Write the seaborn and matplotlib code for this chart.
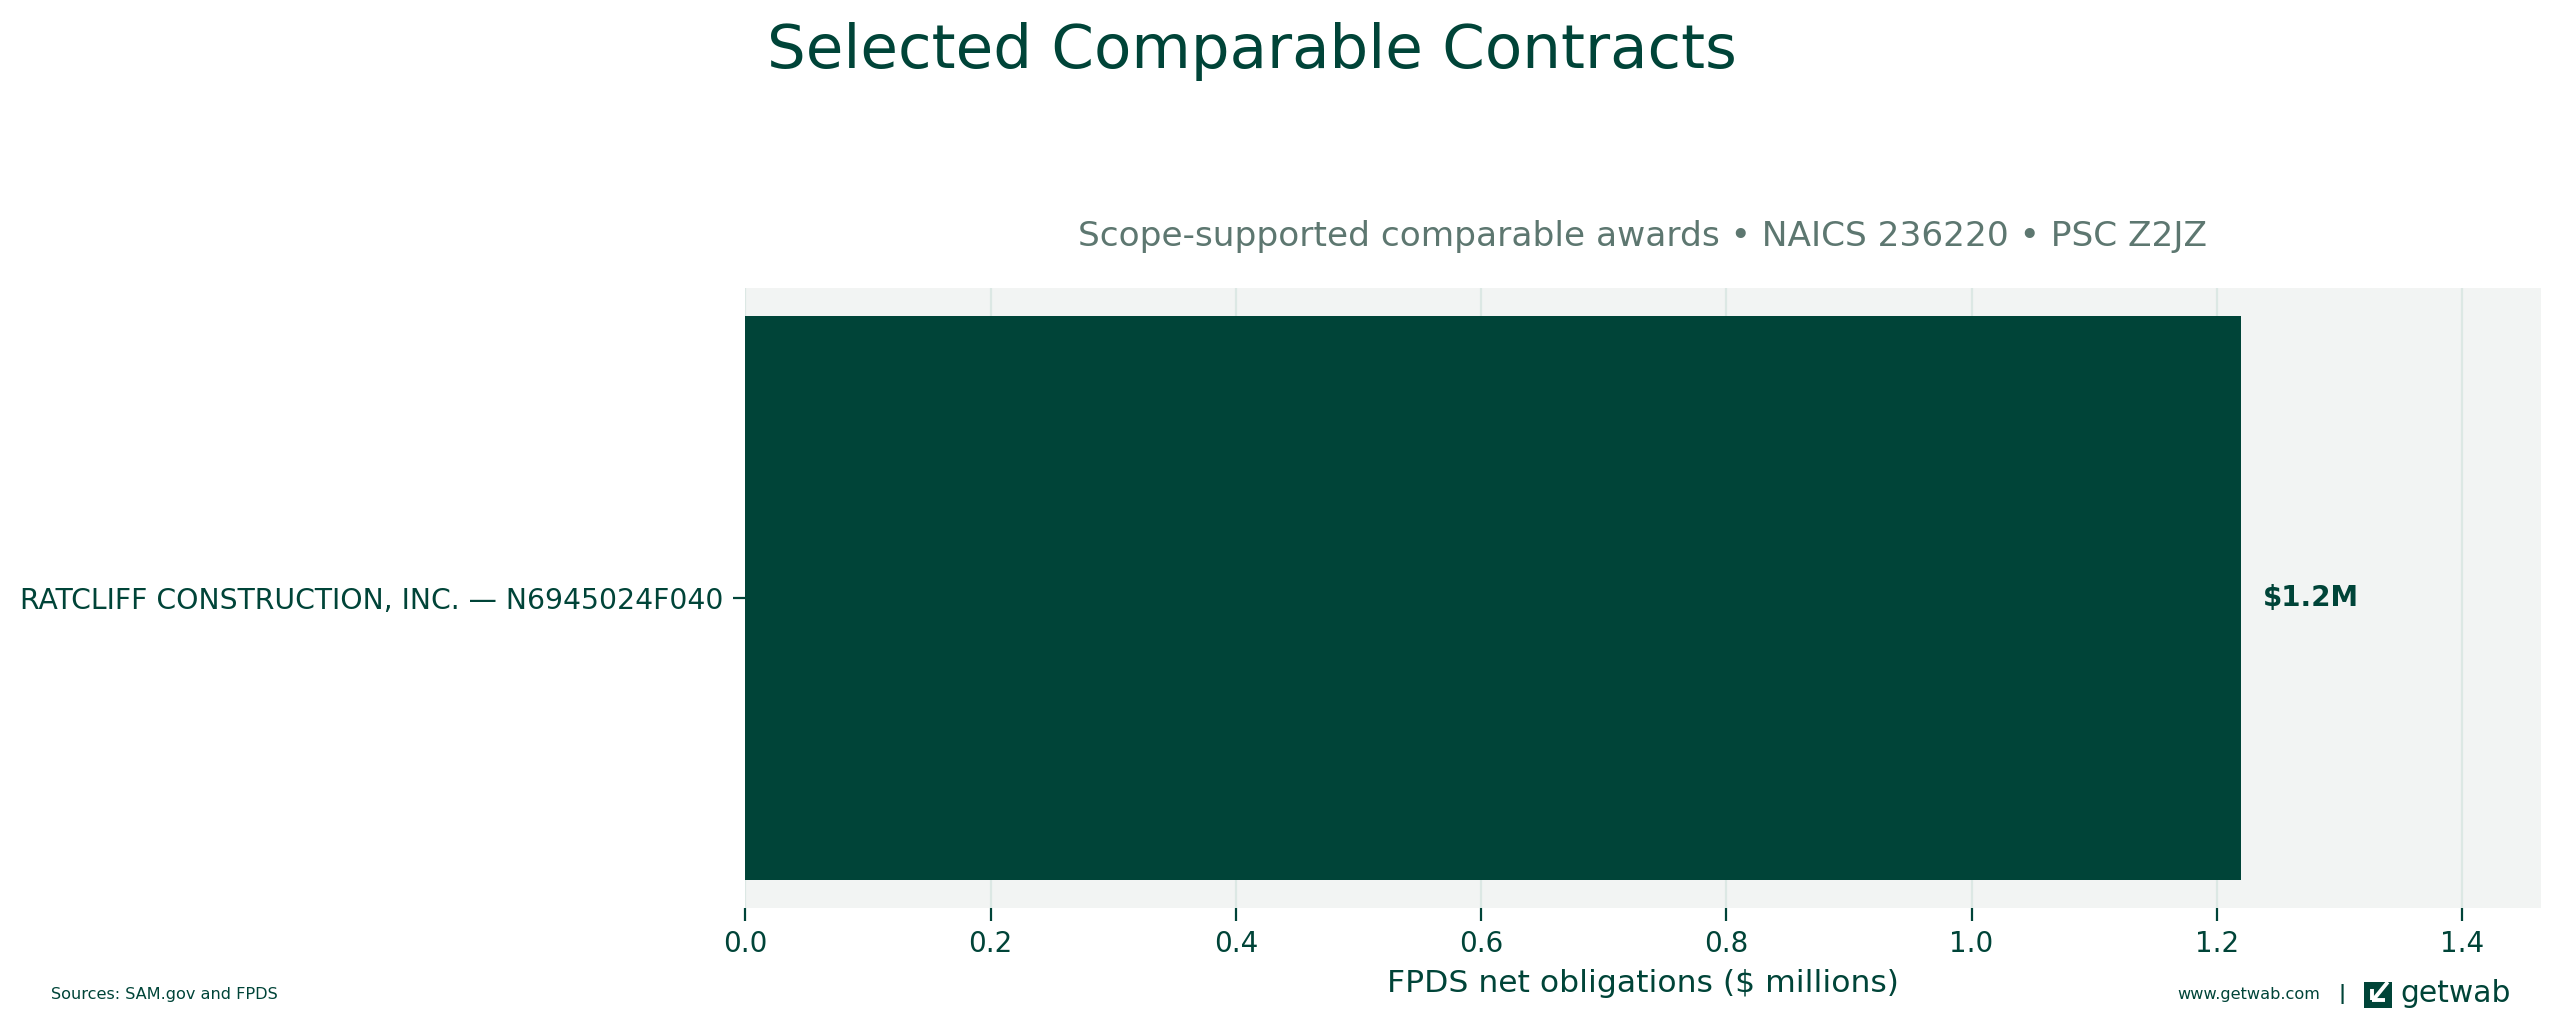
import numpy as np
import pandas as pd
import matplotlib
matplotlib.use("Agg")
import matplotlib.pyplot as plt
from matplotlib.patches import Rectangle
from matplotlib.lines import Line2D
import seaborn as sns

# data
labels = ["RATCLIFF CONSTRUCTION, INC. \u2014 N6945024F040"]
values_musd = [1.22]
value_text = ["$1.2M"]

DARK = "#004438"
MUTED = "#5d7770"
FACE = "#f2f4f3"
GRID = "#dce8e4"

sns.set_theme(style="white")
plt.rcParams["font.family"] = ["DejaVu Sans"]

df = pd.DataFrame({"label": labels, "value": values_musd})

fig = plt.figure(figsize=(12.805, 5.11), dpi=200)
ax = fig.add_axes([0.291, 0.1115, 0.701, 0.607])
ax.set_facecolor(FACE)

sns.barplot(data=df, y="label", x="value", orient="h", color=DARK,
            saturation=1, width=0.8, linewidth=0, ax=ax)
ax.set_ylim(0.44, -0.44)
ax.set_xlim(0, max(values_musd) * 1.2)

for i, (v, t) in enumerate(zip(values_musd, value_text)):
    ax.text(v + 0.018, i, t, va="center", ha="left", fontsize=10,
            fontweight="bold", color=DARK)

ax.grid(axis="x", color=GRID, lw=0.8)
ax.grid(axis="y", visible=False)
ax.set_axisbelow(True)
for s in ax.spines.values():
    s.set_visible(False)
ax.tick_params(axis="both", colors=DARK, labelcolor=DARK, labelsize=10,
               length=4.5, width=0.8, left=True, bottom=True)
ax.tick_params(axis="y", labelsize=10.2)
ax.set_ylabel("")
ax.set_xlabel("FPDS net obligations ($ millions)", fontsize=11.3, color=DARK,
              labelpad=4)
ax.set_title("Scope-supported comparable awards \u2022 NAICS 236220 \u2022 PSC Z2JZ",
             fontsize=12.4, color=MUTED, pad=15)

fig.suptitle("Selected Comparable Contracts", x=0.489, y=0.978, va="top",
             fontsize=22, color=DARK)

# footer
fig.text(0.02, 0.027, "Sources: SAM.gov and FPDS", fontsize=5.8, color=DARK,
         va="center", ha="left")
fig.text(0.906, 0.027, "www.getwab.com", fontsize=5.8, color=DARK,
         va="center", ha="right")
fig.text(0.9145, 0.027, "|", fontsize=7, color=DARK, va="center",
         ha="center", fontweight="bold")
W, H = 2561, 1022
x0, y0, sw, sh = 2364 / W, (1022 - 1008) / H, 28 / W, 26 / H
fig.patches.append(Rectangle((x0, y0), sw, sh, transform=fig.transFigure,
                             facecolor=DARK, edgecolor="none"))
def _pt(u, v):
    return x0 + u * sw, y0 + v * sh
for seg in ([(0.85, 1.0), (0.32, 0.3)], [(0.3, 0.3), (0.3, 0.75)],
            [(0.3, 0.3), (0.75, 0.3)]):
    (xa, ya), (xb, yb) = _pt(*seg[0]), _pt(*seg[1])
    fig.lines.append(Line2D([xa, xb], [ya, yb], transform=fig.transFigure,
                            color="white", lw=1.4, solid_capstyle="butt"))
fig.text(2400 / W, 0.028, "getwab", fontsize=10.7, color=DARK, va="center",
         ha="left")

fig.savefig("out.png", dpi=200, facecolor="white")
